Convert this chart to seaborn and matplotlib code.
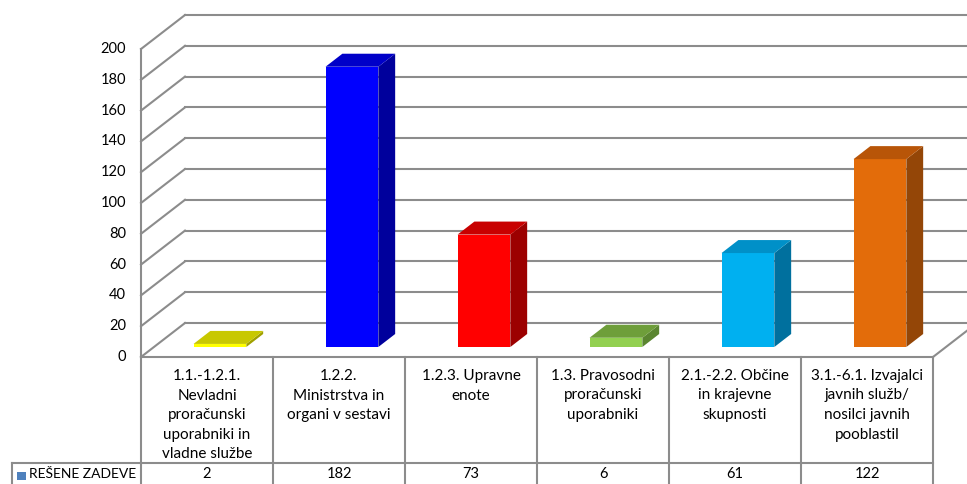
import matplotlib
matplotlib.use("Agg")
import matplotlib.pyplot as plt
import matplotlib.transforms as mtransforms
from matplotlib.patches import Polygon, Rectangle
from matplotlib.lines import Line2D
import seaborn as sns
import pandas as pd

# ---- data ----
categories = [
    "1.1.-1.2.1.\nNevladni\nproračunski\nuporabniki in\nvladne službe",
    "1.2.2.\nMinistrstva in\norgani v sestavi",
    "1.2.3. Upravne\nenote",
    "1.3. Pravosodni\nproračunski\nuporabniki",
    "2.1.-2.2. Občine\nin krajevne\nskupnosti",
    "3.1.-6.1. Izvajalci\njavnih služb/\nnosilci javnih\npooblastil",
]
values = [2, 182, 73, 6, 61, 122]
series_name = "REŠENE ZADEVE"
y_ticks = list(range(0, 201, 20))

front_colors = ["#FFFF00", "#0000FF", "#FF0000", "#92D050", "#00B0F0", "#E36C0A"]
top_colors = ["#C8C800", "#0000C8", "#C80000", "#6E9E3A", "#0090C8", "#B85508"]
side_colors = ["#A0A000", "#00009C", "#9C0000", "#5A8530", "#00709E", "#944607"]
legend_color = "#4F81BD"

sns.set_theme(style="white")
plt.rcParams["font.family"] = ["Lato", "DejaVu Sans"]

W, H, DPI = 967, 484, 100
fig = plt.figure(figsize=(W / DPI, H / DPI), dpi=DPI)

# 3D box geometry (pixels)
FRONT_LEFT, FRONT_RIGHT = 141, 933
FLOOR_FRONT_Y = 357          # screen row of the floor's front edge
DEPTH = 34                   # vertical extent of the floor
SLANT = 44 / 34              # horizontal shift per unit of depth
BAR_D0, BAR_D1 = 10, 23      # bar front/back depth
PX_PER_UNIT = 1.54
YMAX = 200

bar_left = FRONT_LEFT + BAR_D0 * SLANT
bar_base = FLOOR_FRONT_Y - BAR_D0
ax = fig.add_axes([bar_left / W, (H - bar_base) / H,
                   (FRONT_RIGHT - FRONT_LEFT) / W, YMAX * PX_PER_UNIT / H])

df = pd.DataFrame({"category": categories, "value": values})
palette = dict(zip(categories, front_colors))
sns.barplot(data=df, x="category", y="value", hue="category", palette=palette,
            width=0.4, saturation=1, legend=False, ax=ax, linewidth=0)
ax.set_xlim(-0.5, len(categories) - 0.5)
ax.set_ylim(0, YMAX)
ax.set_axis_off()

ident = mtransforms.IdentityTransform()
GRID = "#8C8C8C"
LW = 1.5


def P(x, v, d):
    """Display position of a data point pushed to depth d (0 = front plane)."""
    px, py = ax.transData.transform((x, v))
    return px + (d - BAR_D0) * SLANT, py + (d - BAR_D0)


def line(p, q, z=0.5):
    ax.add_line(Line2D([p[0], q[0]], [p[1], q[1]], transform=ident, color=GRID,
                       lw=LW, clip_on=False, zorder=z, solid_capstyle="projecting"))


x_lo, x_hi = -0.5, len(categories) - 0.5

# back wall gridlines and left wall diagonals
for v in y_ticks:
    line(P(x_lo, v, DEPTH), P(x_hi, v, DEPTH))
    line(P(x_lo, v, 0), P(x_lo, v, DEPTH))
    ax.text(P(x_lo, v, 0)[0] - 15, P(x_lo, v, 0)[1], str(v), transform=ident,
            ha="right", va="center", fontsize=10.5, color="#000000")

# left wall front edge and floor
line(P(x_lo, 0, 0), P(x_lo, YMAX, 0))
line(P(x_lo, 0, 0), P(x_hi, 0, 0))
line(P(x_hi, 0, 0), P(x_hi, 0, DEPTH))

# 3D faces on the bars
bdx, bdy = (BAR_D1 - BAR_D0) * SLANT, BAR_D1 - BAR_D0
for patch in ax.patches:
    x0, w, h = patch.get_x(), patch.get_width(), patch.get_height()
    i = int(round(x0 + w / 2))
    (a0, b0) = ax.transData.transform((x0, 0))
    (a1, b1) = ax.transData.transform((x0 + w, h))
    side = Polygon([(a1, b0), (a1 + bdx, b0 + bdy), (a1 + bdx, b1 + bdy), (a1, b1)],
                   closed=True, transform=ident, facecolor=side_colors[i],
                   edgecolor="none", clip_on=False, zorder=patch.get_zorder())
    top = Polygon([(a0, b1), (a1, b1), (a1 + bdx, b1 + bdy), (a0 + bdx, b1 + bdy)],
                  closed=True, transform=ident, facecolor=top_colors[i],
                  edgecolor="none", clip_on=False, zorder=patch.get_zorder())
    ax.add_patch(side)
    ax.add_patch(top)

# data table under the floor
floor_y = P(x_lo, 0, 0)[1]
row_y = H - 463
for k in range(len(categories) + 1):
    xb = P(k - 0.5, 0, 0)[0]
    line((xb, floor_y), (xb, -5))
line((12, row_y), (P(x_hi, 0, 0)[0], row_y))
line((12, row_y), (12, -5))

for k, (cat, val) in enumerate(zip(categories, values)):
    cx = P(k, 0, 0)[0]
    ax.text(cx, H - 369, cat, transform=ident, ha="center", va="top",
            fontsize=11, linespacing=1.5, color="#000000")
    ax.text(cx, H - 474, str(val), transform=ident, ha="center", va="center",
            fontsize=10.5, color="#000000")

ax.add_patch(Rectangle((17, H - 480), 9, 8, transform=ident, facecolor=legend_color,
                       edgecolor="none", clip_on=False))
ax.text(29, H - 474, series_name, transform=ident, ha="left", va="center",
        fontsize=10, color="#000000")

fig.savefig("out.png", dpi=DPI, facecolor="white")
